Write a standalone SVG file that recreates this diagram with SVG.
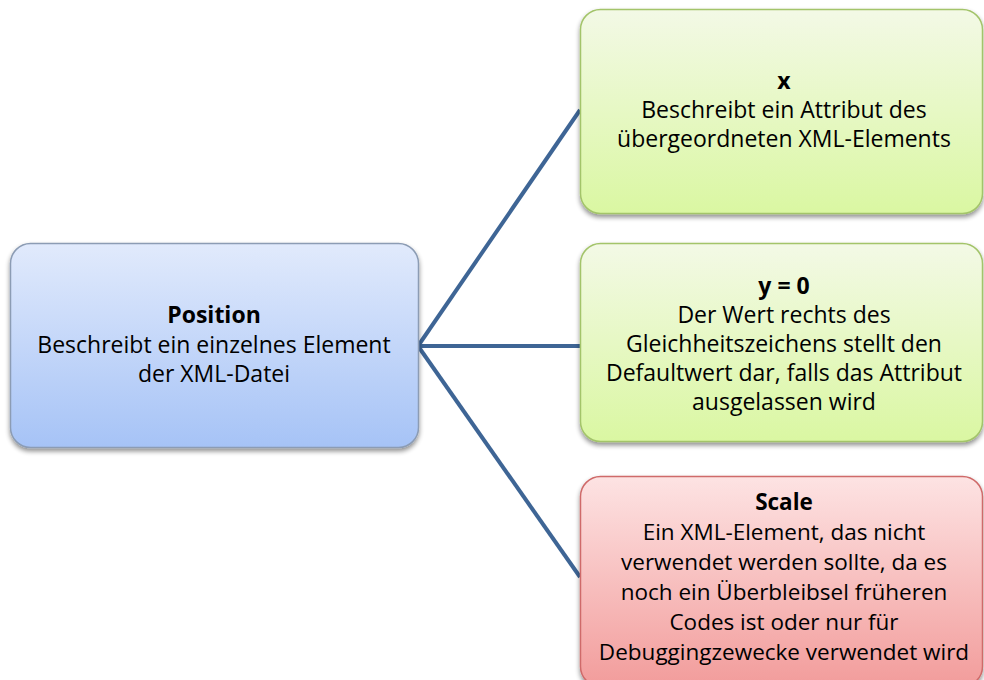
<svg xmlns="http://www.w3.org/2000/svg" width="984" height="680" viewBox="0 0 984 680">
  <defs>
    <linearGradient id="gBlue" x1="0" y1="0" x2="0" y2="1">
      <stop offset="0" stop-color="#e1eafc"/>
      <stop offset="1" stop-color="#a6c3f6"/>
    </linearGradient>
    <linearGradient id="gGreen" x1="0" y1="0" x2="0" y2="1">
      <stop offset="0" stop-color="#f3f9e6"/>
      <stop offset="1" stop-color="#daf7a2"/>
    </linearGradient>
    <linearGradient id="gRed" x1="0" y1="0" x2="0" y2="1">
      <stop offset="0" stop-color="#fde3e3"/>
      <stop offset="1" stop-color="#f29c9b"/>
    </linearGradient>
    <filter id="shadow" x="-10%" y="-10%" width="120%" height="130%">
      <feGaussianBlur in="SourceAlpha" stdDeviation="2.5"/>
      <feOffset dx="0" dy="3" result="b"/>
      <feComponentTransfer><feFuncA type="linear" slope="0.45"/></feComponentTransfer>
      <feMerge><feMergeNode/><feMergeNode in="SourceGraphic"/></feMerge>
    </filter>
  </defs>
  <style>
    text { font-family: "Open Sans", "Liberation Sans", sans-serif; font-size: 23px; fill: #000; text-anchor: middle; }
    .b { font-weight: bold; }
    .sm { font-size: 22.5px; }
    .blue { fill: url(#gBlue); stroke: #8c9cb4; stroke-width: 1.5; }
    .green { fill: url(#gGreen); stroke: #a3c46a; stroke-width: 1.5; }
    .red { fill: url(#gRed); stroke: #cf6b6a; stroke-width: 1.5; }
    .link { stroke: #3e6595; stroke-width: 4; fill: none; }
  </style>
  <rect width="984" height="680" fill="#fff"/>

  <g id="connectors">
    <line class="link" x1="418" y1="346" x2="580" y2="110"/>
    <line class="link" x1="418" y1="346" x2="580" y2="346"/>
    <line class="link" x1="418" y1="346" x2="580" y2="577"/>
  </g>

  <g id="position">
    <rect class="blue" x="10.5" y="243.5" width="408" height="204" rx="20" filter="url(#shadow)"/>
    <text x="214" y="323" class="b">Position</text>
    <text x="214" y="353">Beschreibt ein einzelnes Element</text>
    <text x="214" y="382">der XML-Datei</text>
  </g>

  <g id="attr-x">
    <rect class="green" x="580.5" y="9.5" width="402" height="204" rx="20" filter="url(#shadow)"/>
    <text x="784" y="89" class="b">x</text>
    <text x="784" y="118">Beschreibt ein Attribut des</text>
    <text x="784" y="147">übergeordneten XML-Elements</text>
  </g>

  <g id="attr-y">
    <rect class="green" x="580.5" y="243.5" width="402" height="198" rx="20" filter="url(#shadow)"/>
    <text x="784" y="294" class="b">y = 0</text>
    <text x="784" y="323">Der Wert rechts des</text>
    <text x="784" y="352">Gleichheitszeichens stellt den</text>
    <text x="784" y="381">Defaultwert dar, falls das Attribut</text>
    <text x="784" y="410">ausgelassen wird</text>
  </g>

  <g id="scale">
    <rect class="red" x="580.5" y="476.5" width="402" height="210" rx="20" filter="url(#shadow)"/>
    <text x="784" y="510" class="b sm">Scale</text>
    <text x="784" y="540" class="sm">Ein XML-Element, das nicht</text>
    <text x="784" y="570" class="sm">verwendet werden sollte, da es</text>
    <text x="784" y="600" class="sm">noch ein Überbleibsel früheren</text>
    <text x="784" y="630" class="sm">Codes ist oder nur für</text>
    <text x="784" y="660" class="sm">Debuggingzewecke verwendet wird</text>
  </g>
</svg>
